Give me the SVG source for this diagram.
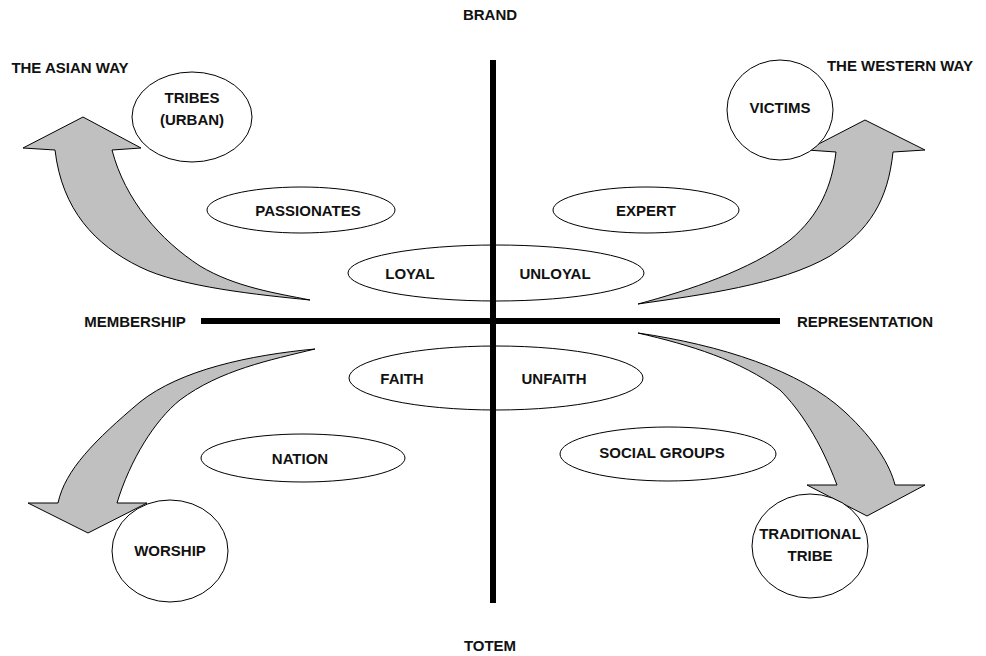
<svg xmlns="http://www.w3.org/2000/svg" width="986" height="656" viewBox="0 0 986 656">
<style>
text{font-family:"Liberation Sans",Arial,sans-serif;font-weight:bold;font-size:15px;fill:#111;text-anchor:middle}
.sh{fill:#fff;stroke:#000;stroke-width:1}
.ar{fill:#c0c0c0;stroke:#000;stroke-width:1;stroke-linejoin:miter}
.ax{stroke:#000;stroke-width:6}
</style>
<rect width="986" height="656" fill="#fff"/>
<g id="connectors">
<path class="ar" d="M310,300 C260,295 180,287 140,267 C95,245 62,210 55,150 L23,148 L83,117 L141,148 L112,150 C125,200 160,240 200,266 C235,287 275,293 310,300 Z"/>
<path class="ar" d="M638,304 C690,290 750,270 790,240 C820,215 832,185 836,152 L807,150 L865,120 L925,150 L893,152 C888,200 870,230 830,256 C780,285 700,295 638,304 Z"/>
<path class="ar" d="M315,349 C250,355 180,370 140,402 C95,440 65,470 58,503 L28,503 L88,533 L147,503 L117,503 C130,460 155,420 180,400 C220,370 270,360 315,349 Z"/>
<path class="ar" d="M638,333 C720,345 800,370 845,412 C875,440 890,465 895,485 L925,485 L867,516 L807,485 L837,485 C820,440 800,410 780,390 C740,360 690,345 638,333 Z"/>
</g>
<g id="axes">
<line class="ax" x1="493" y1="60" x2="493" y2="603"/>
<line class="ax" x1="201" y1="321" x2="780" y2="321"/>
</g>
<g id="label-brand"><text x="490" y="20">BRAND</text></g>
<g id="label-totem"><text x="490" y="651">TOTEM</text></g>
<g id="label-membership"><text x="135" y="327">MEMBERSHIP</text></g>
<g id="label-representation"><text x="865" y="327">REPRESENTATION</text></g>
<g id="label-asian"><text x="70" y="73">THE ASIAN WAY</text></g>
<g id="label-western"><text x="900" y="71">THE WESTERN WAY</text></g>
<g id="tribes-urban"><ellipse class="sh" cx="192" cy="117" rx="60" ry="45"/><text x="192" y="103">TRIBES</text><text x="192" y="125">(URBAN)</text></g>
<g id="victims"><ellipse class="sh" cx="780" cy="110" rx="53" ry="50"/><text x="780" y="113">VICTIMS</text></g>
<g id="worship"><ellipse class="sh" cx="170" cy="551" rx="58" ry="51"/><text x="170" y="556">WORSHIP</text></g>
<g id="traditional-tribe"><ellipse class="sh" cx="810" cy="546" rx="58" ry="52"/><text x="810" y="539">TRADITIONAL</text><text x="810" y="561">TRIBE</text></g>
<g id="passionates"><ellipse class="sh" cx="301" cy="210" rx="94" ry="23"/><text x="308" y="216">PASSIONATES</text></g>
<g id="expert"><ellipse class="sh" cx="646" cy="210" rx="93" ry="23"/><text x="646" y="216">EXPERT</text></g>
<g id="loyal-unloyal"><ellipse class="sh" cx="496" cy="273" rx="148" ry="28"/><text x="410" y="279">LOYAL</text><text x="555" y="279">UNLOYAL</text></g>
<g id="faith-unfaith"><ellipse class="sh" cx="496" cy="378" rx="147" ry="32"/><text x="402" y="384">FAITH</text><text x="554" y="384">UNFAITH</text></g>
<g id="nation"><ellipse class="sh" cx="303" cy="458" rx="102" ry="24"/><text x="300" y="464">NATION</text></g>
<g id="social-groups"><ellipse class="sh" cx="668" cy="454" rx="108" ry="27"/><text x="662" y="458">SOCIAL GROUPS</text></g>
<g id="axes-top">
<line class="ax" x1="493" y1="245" x2="493" y2="302"/>
<line class="ax" x1="493" y1="346" x2="493" y2="410"/>
</g>
</svg>
